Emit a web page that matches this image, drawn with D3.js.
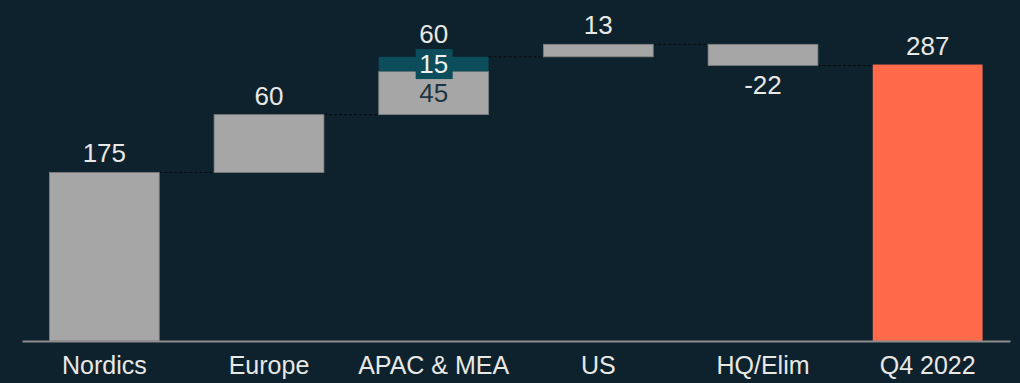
<!DOCTYPE html>
<html>
<head>
<meta charset="utf-8">
<script src="https://cdn.jsdelivr.net/npm/d3@7"></script>
<style>
  body { margin: 0; background: #0e222e; }
  text { font-family: "Liberation Sans", Arial, sans-serif; }
</style>
</head>
<body>
<script>
// chart size
var w = 1020;
var h = 383;

// data
var categories = ["Nordics", "Europe", "APAC & MEA", "US", "HQ/Elim", "Q4 2022"];
var baseValues = [175, 60, 45, 13, -22, 287];   // grey part (or total)
var extraValues = [0, 0, 15, 0, 0, 0];          // teal part stacked on top
var totalFlags = [false, false, false, false, false, true];

// build waterfall steps
var running = 0;
var steps = categories.map(function(c, i) {
  var step = { name: c, base: baseValues[i], extra: extraValues[i], total: totalFlags[i] };
  if (step.total) {
    step.start = 0;
    step.end = baseValues[i];
    running = step.end;
  } else {
    step.start = running;
    step.end = running + baseValues[i] + extraValues[i];
    running = step.end;
  }
  step.label = step.total ? step.end : baseValues[i] + extraValues[i];
  return step;
});

var svg = d3.select("body").append("svg")
  .attr("width", w)
  .attr("height", h);

var x = d3.scaleBand()
  .domain(categories)
  .range([22, 1010])
  .paddingInner(0.333)
  .paddingOuter(0.1665);

var y = d3.scaleLinear()
  .domain([0, 354])
  .range([341, 0]);

var boxH = 30; // height of the label box on the teal part

// connector dashed lines between bars
svg.selectAll("line.conn")
  .data(steps.slice(0, -1))
  .enter()
  .append("line")
  .attr("class", "conn")
  .attr("x1", function(d) { return x(d.name) + x.bandwidth(); })
  .attr("x2", function(d, i) { return x(steps[i + 1].name); })
  .attr("y1", function(d) { return y(d.end); })
  .attr("y2", function(d) { return y(d.end); })
  .attr("stroke", "#050a0d")
  .attr("stroke-width", 1)
  .attr("stroke-dasharray", "3,2");

// main bars (grey part / total)
svg.selectAll("rect.bar")
  .data(steps)
  .enter()
  .append("rect")
  .attr("class", "bar")
  .attr("x", function(d) { return x(d.name); })
  .attr("width", x.bandwidth())
  .attr("y", function(d) {
    var a = d.start, b = d.start + d.base;
    return y(Math.max(a, b));
  })
  .attr("height", function(d) {
    return Math.abs(y(d.start) - y(d.start + d.base));
  })
  .attr("fill", function(d) { return d.total ? "#ff6a4b" : "#a6a6a6"; })
  .attr("stroke", function(d) { return d.total ? "none" : "#7d7d7d"; })
  .attr("stroke-width", 0.8);

// stacked teal part
svg.selectAll("rect.extra")
  .data(steps.filter(function(d) { return d.extra > 0; }))
  .enter()
  .append("rect")
  .attr("class", "extra")
  .attr("x", function(d) { return x(d.name); })
  .attr("width", x.bandwidth())
  .attr("y", function(d) { return y(d.end); })
  .attr("height", function(d) { return y(d.start + d.base) - y(d.end); })
  .attr("fill", "#0b4d5a");

// label box for teal part
var extraLabels = svg.selectAll("g.extralabel")
  .data(steps.filter(function(d) { return d.extra > 0; }))
  .enter()
  .append("g")
  .attr("class", "extralabel")
  .attr("transform", function(d) {
    return "translate(" + (x(d.name) + x.bandwidth() / 2) + "," + y(d.end - d.extra / 2) + ")";
  });

extraLabels.append("rect")
  .attr("x", -18)
  .attr("y", -boxH / 2)
  .attr("width", 37)
  .attr("height", boxH)
  .attr("fill", "#0b4d5a");

extraLabels.append("text")
  .text(function(d) { return d.extra; })
  .attr("text-anchor", "middle")
  .attr("dy", "0.36em")
  .attr("font-size", 26)
  .attr("fill", "#eef2f2");

// grey part label inside stacked bar
svg.selectAll("text.baselabel")
  .data(steps.filter(function(d) { return d.extra > 0; }))
  .enter()
  .append("text")
  .attr("class", "baselabel")
  .text(function(d) { return d.base; })
  .attr("x", function(d) { return x(d.name) + x.bandwidth() / 2; })
  .attr("y", function(d) { return y(d.start + d.base / 2); })
  .attr("dy", "0.36em")
  .attr("text-anchor", "middle")
  .attr("font-size", 26)
  .attr("fill", "#1c3540");

// value labels above (or below when negative)
svg.selectAll("text.value")
  .data(steps)
  .enter()
  .append("text")
  .attr("class", "value")
  .text(function(d) { return d.label; })
  .attr("x", function(d) { return x(d.name) + x.bandwidth() / 2; })
  .attr("y", function(d) {
    if (!d.total && d.label < 0) return y(d.end) + 28;
    if (d.extra > 0) return y(d.end - d.extra / 2) - boxH / 2 - 6;
    return y(Math.max(d.start, d.end)) - 10;
  })
  .attr("text-anchor", "middle")
  .attr("font-size", 26)
  .attr("fill", "#e8e8e4");

// x axis
var axis = svg.append("g")
  .attr("transform", "translate(0," + y(0) + ")")
  .call(d3.axisBottom(x).tickSize(0).tickPadding(15).tickSizeOuter(0));

axis.select(".domain")
  .attr("stroke", "#8c8c8c")
  .attr("stroke-width", 2);

axis.selectAll("text")
  .attr("font-size", 25)
  .attr("font-family", "'Liberation Sans', Arial, sans-serif")
  .attr("fill", "#e8e8e4");
</script>
</body>
</html>
